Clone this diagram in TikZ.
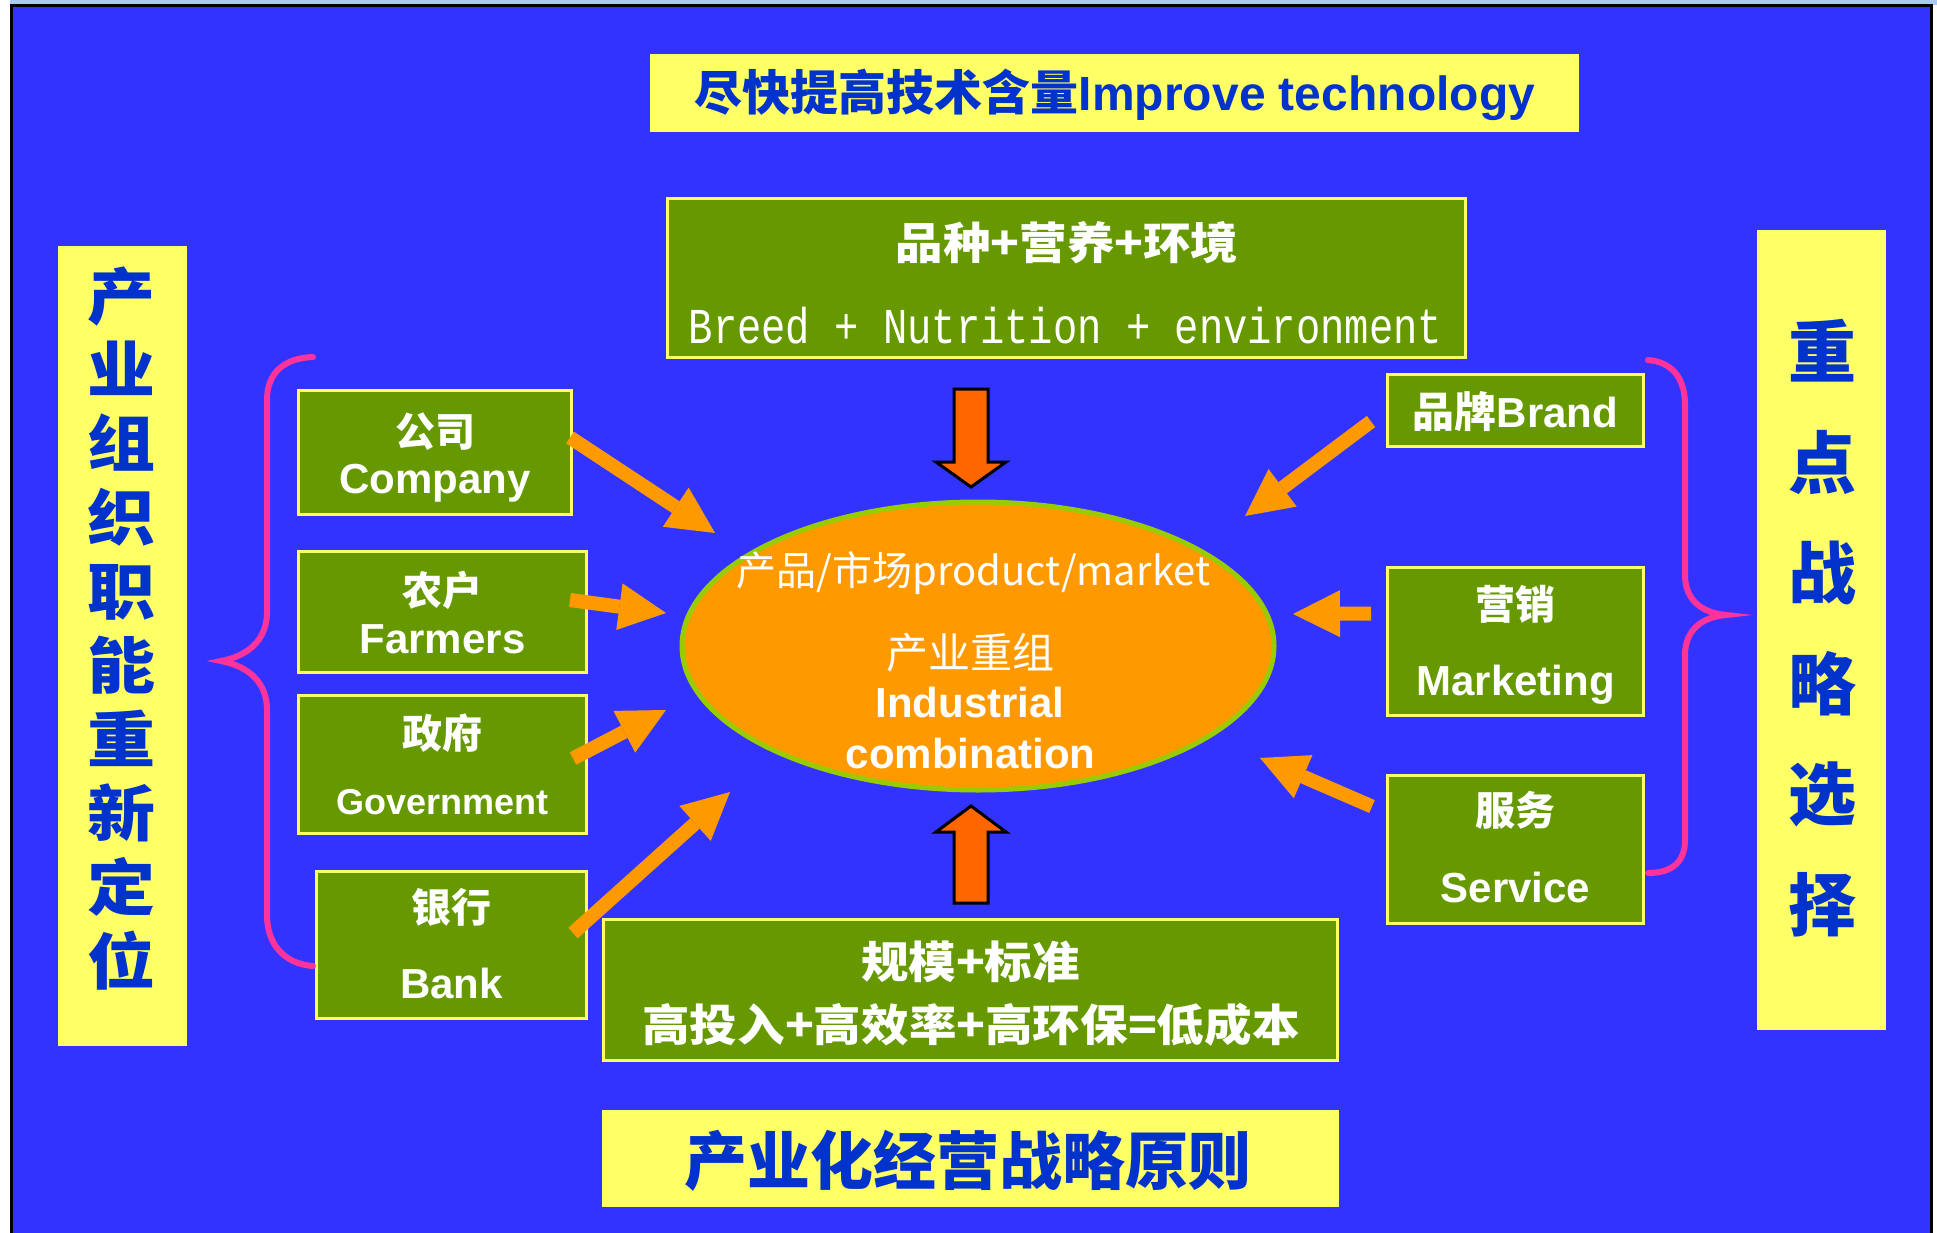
\documentclass[tikz,border=0pt]{standalone}
\usepackage{fontspec}
\setmainfont{Liberation Sans}
\newfontfamily\cjk{Noto Sans CJK SC}
\newfontfamily\monof{Liberation Mono}
\usetikzlibrary{arrows.meta,shapes.geometric}
\definecolor{bgblue}{HTML}{3333FF}
\definecolor{ylw}{HTML}{FFFF66}
\definecolor{grn}{HTML}{669900}
\definecolor{org}{HTML}{FF9900}
\definecolor{redorg}{HTML}{FF6600}
\definecolor{lime}{HTML}{99CC00}
\definecolor{pinkb}{HTML}{FF3399}
\definecolor{tblue}{HTML}{0033CC}
\definecolor{stripc}{HTML}{AACCEE}
\newcommand\fs[1]{\fontsize{#1}{#1}\selectfont}
\newcommand\wider[1]{\scalebox{1.08}[1]{#1}}
\begin{document}
\begin{tikzpicture}[x=1pt,y=-1pt,
  gbox/.style={draw=ylw, line width=3pt, fill=grn, inner sep=0pt},
  ybox/.style={fill=ylw, inner sep=0pt},
  lbl/.style={text=white, inner sep=0pt, anchor=base},
  zhlab/.style={lbl, font=\cjk\bfseries\fs{40}},
  enlab/.style={lbl, font=\bfseries\fs{42}},
  vch/.style={text=tblue, inner sep=0pt, anchor=base, font=\cjk\bfseries\fs{68}},
  oarrow/.style={draw=org, line width=14pt, -{Triangle[length=47pt,width=47pt,line width=0pt]}},
  barrow/.style={fill=redorg, draw=black, line width=3pt, line join=miter},
  bracep/.style={draw=pinkb, line width=6pt, line cap=round}
]
\useasboundingbox (0,0) rectangle (1937,1233);
% frame
\fill[white] (0,0) rectangle (1937,1233);
\fill[stripc] (10,0) rectangle (1937,5);
\fill[black] (10,4) rectangle (1933,1233);
\fill[bgblue] (13,7) rectangle (1930,1233);

% yellow boxes
\node[ybox, minimum width=929pt, minimum height=78pt] (title) at (1114.5,93) {};
\node[ybox, minimum width=737pt, minimum height=97pt] (bottitle) at (970.5,1158.5) {};
\node[ybox, minimum width=129pt, minimum height=800pt] (leftbar) at (122.5,646) {};
\node[ybox, minimum width=129pt, minimum height=800pt] (rightbar) at (1821.5,630) {};

% green boxes
\node[gbox, minimum width=798pt, minimum height=159pt] (topg) at (1066.5,278) {};
\node[gbox, minimum width=734pt, minimum height=141pt] (botg) at (970.5,990) {};
\node[gbox, minimum width=273pt, minimum height=124pt] (company) at (435,452.5) {};
\node[gbox, minimum width=288pt, minimum height=121pt] (farmers) at (442.5,612) {};
\node[gbox, minimum width=288pt, minimum height=138pt] (gov) at (442.5,764.5) {};
\node[gbox, minimum width=270pt, minimum height=147pt] (bank) at (451.5,945) {};
\node[gbox, minimum width=256pt, minimum height=72pt] (brand) at (1515.5,410.5) {};
\node[gbox, minimum width=256pt, minimum height=148pt] (marketing) at (1515.5,641.5) {};
\node[gbox, minimum width=256pt, minimum height=148pt] (service) at (1515.5,849.5) {};

% ellipse
\node[ellipse, draw=lime, line width=5pt, fill=org, minimum width=592pt, minimum height=288pt, inner sep=0pt] (core) at (978,646) {};

% braces
\draw[bracep] (313,357) .. controls (285,358) and (267,372) .. (267,400) -- (267,612)
  .. controls (267,640) and (248,656) .. (221,661)
  .. controls (248,666) and (267,682) .. (267,710) -- (267,915)
  .. controls (267,945) and (285,964) .. (313,966);
\draw[bracep] (1648,360) .. controls (1672,362) and (1685,378) .. (1685,405) -- (1685,575)
  .. controls (1685,600) and (1702,613) .. (1726,615)
  .. controls (1702,617) and (1685,630) .. (1685,655) -- (1685,840)
  .. controls (1685,862) and (1672,873) .. (1648,873);

% vertical block arrows
\draw[barrow] (954,389) -- (988,389) -- (988,462) -- (1006,462) -- (971,487) -- (936,462) -- (954,462) -- cycle;
\draw[barrow] (954,903) -- (988,903) -- (988,832) -- (1006,832) -- (971,806) -- (936,832) -- (954,832) -- cycle;

% orange arrows
\coordinate (tCo) at (715,533);
\coordinate (tFa) at (666,613);
\coordinate (tGo) at (666,710);
\coordinate (tBa) at (730,792);
\coordinate (tBr) at (1245,516);
\coordinate (tMa) at (1293,614);
\coordinate (tSe) at (1260,758);
\draw[oarrow] ([xshift=-3pt,yshift=15pt]company.east) -- (tCo);
\draw[oarrow] ([xshift=-18pt,yshift=12pt]farmers.east) -- (tFa);
\draw[oarrow] ([xshift=-15pt,yshift=6pt]gov.east) -- (tGo);
\draw[oarrow] ([xshift=-15pt,yshift=12pt]bank.east) -- (tBa);
\draw[oarrow] ([xshift=-15pt,yshift=-11pt]brand.west) -- (tBr);
\draw[oarrow] ([xshift=-15pt,yshift=28pt]marketing.west) -- (tMa);
\draw[oarrow] ([xshift=-14pt,yshift=43pt]service.west) -- (tSe);

% texts
\node[lbl, text=tblue, font=\bfseries\fs{48}] (titletxt) at (1115,111) {{\cjk 尽快提高技术含量}Improve technology};
\node[lbl, text=tblue, font=\cjk\bfseries\fs{63}] (bottxt) at (968,1184) {产业化经营战略原则};

\node[zhlab, font=\cjk\bfseries\fs{44}] (topg1) at (1067,259) {\wider{品种+营养+环境}};
\node[lbl, font=\monof\fs{40.5}] (topg2) at (1065.5,343) {\scalebox{1}[1.24]{Breed + Nutrition + environment}};

\node[zhlab, font=\cjk\bfseries\fs{44}] (botg1) at (970.5,978) {\wider{规模+标准}};
\node[zhlab, font=\cjk\bfseries\fs{44}] (botg2) at (971,1041) {\wider{高投入+高效率+高环保=低成本}};

\node[zhlab] (co1) at (435,446) {公司};
\node[enlab] (co2) at (435,493) {Company};
\node[zhlab] (fa1) at (442.5,605) {农户};
\node[enlab] (fa2) at (442.5,653) {Farmers};
\node[zhlab] (go1) at (442.5,748) {政府};
\node[enlab, font=\bfseries\fs{36}] (go2) at (442.5,814) {Government};
\node[zhlab] (ba1) at (451.5,922) {银行};
\node[enlab] (ba2) at (451.5,998) {Bank};
\node[enlab] (br1) at (1515.5,427) {{\cjk 品牌}Brand};
\node[zhlab] (ma1) at (1515.5,619) {营销};
\node[enlab] (ma2) at (1515.5,695) {Marketing};
\node[zhlab] (se1) at (1515.5,825) {服务};
\node[enlab] (se2) at (1515.5,902) {Service};

\node[lbl, font=\cjk\fs{40}] (el1) at (973.5,585) {产品/市场product/market};
\node[lbl, font=\cjk\fs{42}] (el2) at (970,668) {产业重组};
\node[enlab] (el3) at (970,717) {Industrial};
\node[enlab] (el4) at (970.5,768) {combination};

\foreach \c [count=\i from 0] in {产,业,组,织,职,能,重,新,定,位}
  \node[vch] (L\i) at (121,{319+73.9*\i}) {\scalebox{1}[0.9]{\c}};
\foreach \c [count=\i from 0] in {重,点,战,略,选,择}
  \node[vch] (R\i) at (1822,{377.5+110.5*\i}) {\c};
\end{tikzpicture}
\end{document}
